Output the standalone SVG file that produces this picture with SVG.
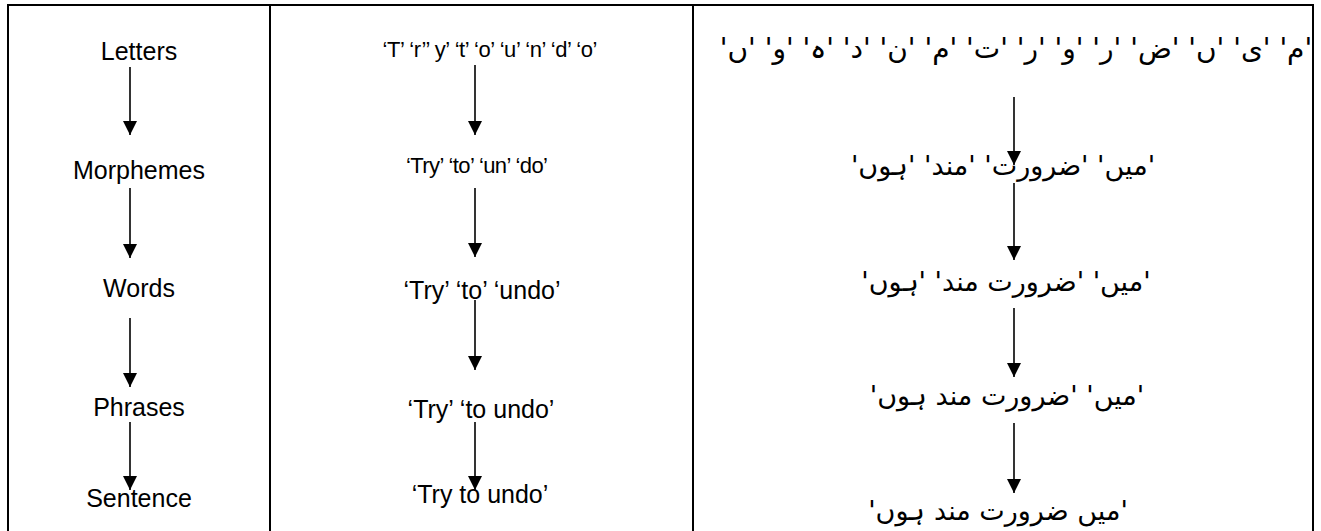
<svg xmlns="http://www.w3.org/2000/svg" width="1321" height="531" viewBox="0 0 1321 531">
<style>
.frame{stroke:#000;stroke-width:2;fill:none}
.lbl{font-family:"Liberation Sans",Arial,sans-serif;font-size:25px;fill:#000;text-anchor:middle}
.ex{font-family:"Liberation Sans",Arial,sans-serif;font-size:22px;fill:#000;text-anchor:middle}
.ex2{font-family:"Liberation Sans",Arial,sans-serif;font-size:25px;fill:#000;text-anchor:middle}
.ur{font-family:"DejaVu Sans","Noto Sans",sans-serif;font-size:27px;fill:#000;text-anchor:middle;direction:rtl;unicode-bidi:embed}
.arr{stroke:#000;stroke-width:1.6;fill:none;marker-end:url(#ah)}
</style>
<defs>
<marker id="ah" markerUnits="userSpaceOnUse" markerWidth="14" markerHeight="15" refX="14" refY="7" orient="auto" viewBox="0 0 14 14">
<path d="M0,0 L14,7 L0,14 z" fill="#000"/>
</marker>
</defs>
<rect width="1321" height="531" fill="#fff"/>
<g id="table">
<path class="frame" d="M8,531 V5 H1313 V531"/>
<line class="frame" x1="270" y1="5" x2="270" y2="531"/>
<line class="frame" x1="693" y1="5" x2="693" y2="531"/>
</g>
<g id="col-levels">
<g id="n-letters"><text class="lbl" x="139" y="60">Letters</text></g>
<g id="n-morphemes"><text class="lbl" x="139" y="179">Morphemes</text></g>
<g id="n-words"><text class="lbl" x="139" y="297">Words</text></g>
<g id="n-phrases"><text class="lbl" x="139" y="416">Phrases</text></g>
<g id="n-sentence"><text class="lbl" x="139" y="507">Sentence</text></g>
</g>
<g id="col-english">
<g id="e-letters"><text class="ex" x="490" y="57" textLength="215">‘T’ ‘r’’ y’ ‘t’ ‘o’ ‘u’ ‘n’ ‘d’ ‘o’</text></g>
<g id="e-morphemes"><text class="ex" x="477" y="173" textLength="142">‘Try’ ‘to’ ‘un’ ‘do’</text></g>
<g id="e-words"><text class="ex2" x="482" y="299">‘Try’ ‘to’ ‘undo’</text></g>
<g id="e-phrases"><text class="ex2" x="481" y="418">‘Try’ ‘to undo’</text></g>
<g id="e-sentence"><text class="ex2" x="480" y="503">‘Try to undo’</text></g>
</g>
<g id="col-urdu">
<g id="u-letters"><text class="ur" x="1016" y="58" style="font-size:28px">'م' 'ی' 'ں' 'ض' 'ر' 'و' 'ر' 'ت' 'م' 'ن' 'د' 'ہ' 'و' 'ں'</text></g>
<g id="u-morphemes"><text class="ur" x="1003" y="175">'میں' 'ضرورت' 'مند' 'ہوں'</text></g>
<g id="u-words"><text class="ur" x="1006" y="291">'میں' 'ضرورت مند' 'ہوں'</text></g>
<g id="u-phrases"><text class="ur" x="1007" y="405">'میں' 'ضرورت مند ہوں'</text></g>
<g id="u-sentence"><text class="ur" x="998" y="520">'میں ضرورت مند ہوں'</text></g>
</g>
<g id="connectors">
<line class="arr" x1="130" y1="67" x2="130" y2="135"/>
<line class="arr" x1="130" y1="188" x2="130" y2="258"/>
<line class="arr" x1="130" y1="318" x2="130" y2="387"/>
<line class="arr" x1="130" y1="422" x2="130" y2="490"/>
<line class="arr" x1="475" y1="65" x2="475" y2="135"/>
<line class="arr" x1="475" y1="188" x2="475" y2="257"/>
<line class="arr" x1="475" y1="300" x2="475" y2="370"/>
<line class="arr" x1="475" y1="422" x2="475" y2="490"/>
<line class="arr" x1="1014" y1="97" x2="1014" y2="165"/>
<line class="arr" x1="1014" y1="183" x2="1014" y2="260"/>
<line class="arr" x1="1014" y1="308" x2="1014" y2="377"/>
<line class="arr" x1="1014" y1="423" x2="1014" y2="493"/>
</g>
</svg>
